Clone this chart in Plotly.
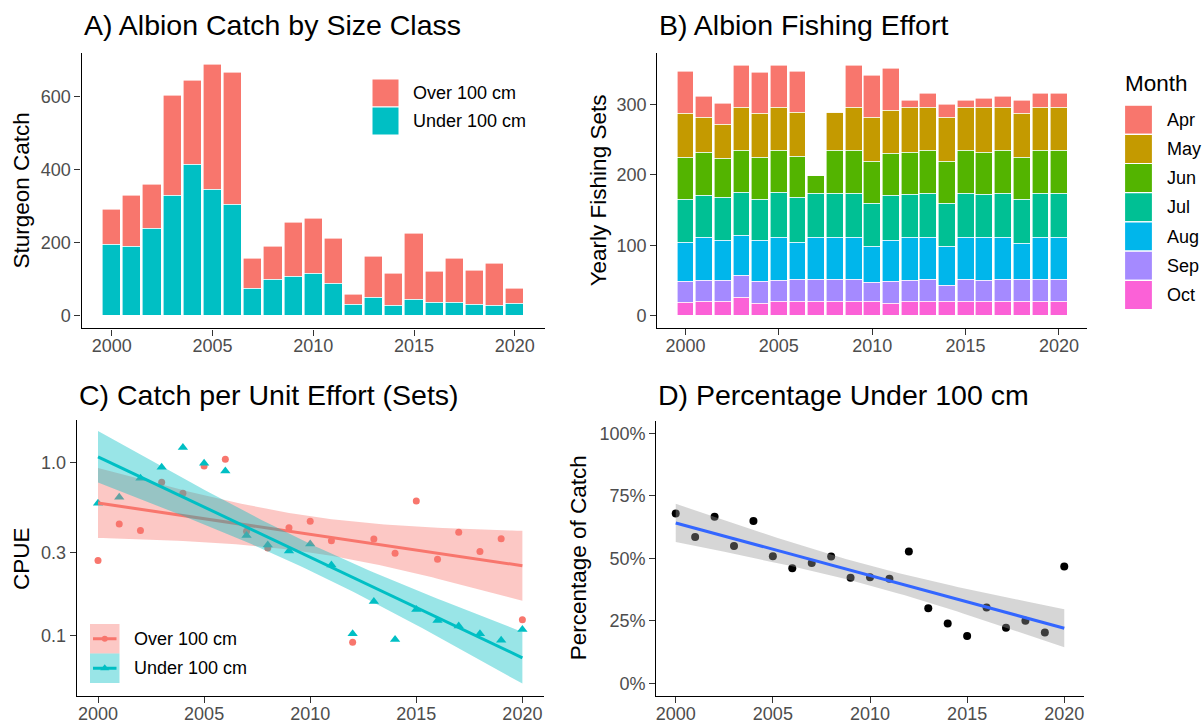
import numpy as np
import plotly.graph_objects as go

W, H = 1202, 723
FONT = "Liberation Sans, Arial, sans-serif"

# ---------------- data ----------------
years = list(range(2000, 2021))
size_classes = ["Over 100 cm", "Under 100 cm"]
catch_over = [94, 138, 122, 274, 228, 341, 361, 80, 91, 147, 151, 122, 27, 114, 88, 181, 85, 122, 94, 114, 39]
catch_under = [195, 189, 237, 328, 414, 345, 304, 75, 98, 107, 114, 88, 30, 49, 27, 43, 37, 35, 30, 28, 34]

months = ["Apr", "May", "Jun", "Jul", "Aug", "Sep", "Oct"]
sets_apr = [60, 29, 29, 60, 59, 60, 58, 0, 0, 60, 59, 59, 11, 20, 18, 10, 13, 15, 18, 20, 20]
sets_may = [63, 51, 49, 62, 63, 62, 63, 0, 54, 62, 63, 62, 63, 62, 63, 62, 63, 62, 63, 61, 62]
sets_jun = [60, 60, 56, 60, 59, 59, 59, 26, 61, 61, 60, 60, 60, 61, 60, 61, 60, 61, 60, 61, 61]
sets_jul = [60, 61, 61, 61, 59, 64, 63, 62, 62, 62, 61, 63, 62, 62, 61, 62, 62, 62, 62, 62, 62]
sets_aug = [56, 61, 57, 57, 58, 61, 53, 60, 60, 60, 52, 59, 60, 60, 56, 60, 61, 60, 51, 60, 60]
sets_sep = [30, 29, 30, 30, 31, 31, 31, 31, 31, 31, 26, 31, 31, 31, 22, 31, 29, 31, 31, 31, 31]
sets_oct = [18, 20, 19, 26, 17, 19, 20, 20, 20, 20, 20, 17, 19, 20, 20, 20, 20, 20, 20, 20, 20]

cpue_over = [0.271, 0.44, 0.403, 0.766, 0.662, 0.953, 1.04, 0.40, 0.32, 0.418, 0.456, 0.352, 0.091,
             0.36, 0.298, 0.598, 0.275, 0.394, 0.305, 0.362, 0.123]
cpue_under = [0.58, 0.628, 0.808, 0.936, 1.216, 0.987, 0.891, 0.378, 0.333, 0.307, 0.337, 0.255, 0.102,
              0.157, 0.0944, 0.141, 0.1216, 0.113, 0.102, 0.0936, 0.108]

pct_under = [0.679, 0.585, 0.666, 0.549, 0.649, 0.508, 0.460, 0.481, 0.507, 0.422, 0.424, 0.418, 0.527,
             0.301, 0.240, 0.190, 0.304, 0.223, 0.251, 0.204, 0.467]

x_ticks = [2000, 2005, 2010, 2015, 2020]
catch_ticks = [0, 200, 400, 600]
sets_ticks = [0, 100, 200, 300]
cpue_ticks = [0.1, 0.3, 1.0]
cpue_ticklabels = ["0.1", "0.3", "1.0"]
pct_ticks = [0, 0.25, 0.5, 0.75, 1.0]
pct_ticklabels = ["0%", "25%", "50%", "75%", "100%"]

titles = ["A) Albion Catch by Size Class", "B) Albion Fishing Effort",
          "C) Catch per Unit Effort (Sets)", "D) Percentage Under 100 cm"]
ytitles = ["Sturgeon Catch", "Yearly Fishing Sets", "CPUE", "Percentage of Catch"]

C_OVER, C_UNDER = "#F8766D", "#00BFC4"
month_colors = ["#F8766D", "#C49A00", "#53B400", "#00C094", "#00B6EB", "#A58AFF", "#FB61D7"]
T975 = 2.093  # t quantile, df = 19


def fx(px):
    return px / W


def fy(py):
    return 1 - py / H


def lm_band(x, y, xs):
    x = np.asarray(x, float)
    y = np.asarray(y, float)
    n = len(x)
    xm = x.mean()
    sxx = ((x - xm) ** 2).sum()
    b = ((x - xm) * (y - y.mean())).sum() / sxx
    a = y.mean() - b * xm
    s = np.sqrt(((y - (a + b * x)) ** 2).sum() / (n - 2))
    fit = a + b * xs
    se = s * np.sqrt(1 / n + (xs - xm) ** 2 / sxx)
    return fit, fit - T975 * se, fit + T975 * se


fig = go.Figure()

# ---------------- A ----------------
fig.add_trace(go.Bar(x=years, y=catch_under, marker=dict(color=C_UNDER, line=dict(color="white", width=0.6)),
                     width=0.9, xaxis="x", yaxis="y", showlegend=False))
fig.add_trace(go.Bar(x=years, y=catch_over, marker=dict(color=C_OVER, line=dict(color="white", width=0.6)),
                     width=0.9, xaxis="x", yaxis="y", showlegend=False))

# ---------------- B ----------------
month_sets = [sets_apr, sets_may, sets_jun, sets_jul, sets_aug, sets_sep, sets_oct]
for vals, col in list(zip(month_sets, month_colors))[::-1]:
    fig.add_trace(go.Bar(x=years, y=vals, marker=dict(color=col, line=dict(color="white", width=0.6)),
                         width=0.9, xaxis="x2", yaxis="y2", showlegend=False))

# ---------------- C ----------------
xs = np.linspace(2000, 2020, 81)
fig.add_trace(go.Scatter(x=years, y=cpue_over, mode="markers", marker=dict(color=C_OVER, size=7, symbol="circle"),
                         xaxis="x3", yaxis="y3", showlegend=False))
fig.add_trace(go.Scatter(x=years, y=cpue_under, mode="markers",
                         marker=dict(color=C_UNDER, size=9, symbol="triangle-up"),
                         xaxis="x3", yaxis="y3", showlegend=False))
for vals, col, fillc in [(cpue_over, C_OVER, "rgba(248,118,109,0.4)"),
                         (cpue_under, C_UNDER, "rgba(0,191,196,0.4)")]:
    fit, lo, hi = lm_band(years, np.log10(vals), xs)
    fig.add_trace(go.Scatter(x=list(xs) + list(xs[::-1]), y=list(10 ** hi) + list(10 ** lo[::-1]),
                             fill="toself", fillcolor=fillc, line=dict(width=0), mode="lines",
                             xaxis="x3", yaxis="y3", showlegend=False, hoverinfo="skip"))
    fig.add_trace(go.Scatter(x=xs, y=10 ** fit, mode="lines", line=dict(color=col, width=3),
                             xaxis="x3", yaxis="y3", showlegend=False))

# ---------------- D ----------------
fig.add_trace(go.Scatter(x=years, y=pct_under, mode="markers", marker=dict(color="black", size=8),
                         xaxis="x4", yaxis="y4", showlegend=False))
fit, lo, hi = lm_band(years, pct_under, xs)
fig.add_trace(go.Scatter(x=list(xs) + list(xs[::-1]), y=list(hi) + list(lo[::-1]), fill="toself",
                         fillcolor="rgba(153,153,153,0.4)", line=dict(width=0), mode="lines",
                         xaxis="x4", yaxis="y4", showlegend=False, hoverinfo="skip"))
fig.add_trace(go.Scatter(x=xs, y=fit, mode="lines", line=dict(color="#3366FF", width=3),
                         xaxis="x4", yaxis="y4", showlegend=False))

# ---------------- axes ----------------
common = dict(showline=True, linecolor="black", linewidth=1.4, ticks="outside", ticklen=6,
              tickcolor="#333333", tickwidth=1.2, showgrid=False, zeroline=False,
              tickfont=dict(family=FONT, size=18, color="#4D4D4D"), fixedrange=True)
xcommon = dict(common, ticklabelstandoff=-5)

panels = {
    "A": dict(xd=(81.5, 545), yd=(52.7, 328.3)),
    "B": dict(xd=(657.4, 1087), yd=(52.7, 328.0)),
    "C": dict(xd=(76.8, 543.6), yd=(420, 696)),
    "D": dict(xd=(656.3, 1083.7), yd=(420.7, 696)),
}


def dom_x(p):
    return [fx(panels[p]["xd"][0]), fx(panels[p]["xd"][1])]


def dom_y(p):
    return [fy(panels[p]["yd"][1]), fy(panels[p]["yd"][0])]


layout = dict(
    xaxis=dict(domain=dom_x("A"), range=[1998.5, 2021.5], tickvals=x_ticks, anchor="y", **xcommon),
    yaxis=dict(domain=dom_y("A"), range=[-34, 719], tickvals=catch_ticks, anchor="x", **common),
    xaxis2=dict(domain=dom_x("B"), range=[1998.5, 2021.5], tickvals=x_ticks, anchor="y2", **xcommon),
    yaxis2=dict(domain=dom_y("B"), range=[-17.8, 373.8], tickvals=sets_ticks, anchor="x2", **common),
    xaxis3=dict(domain=dom_x("C"), range=[1999, 2021], tickvals=x_ticks, anchor="y3", **xcommon),
    yaxis3=dict(domain=dom_y("C"), type="log", range=[-1.351, 0.2445], tickvals=cpue_ticks,
                ticktext=cpue_ticklabels, anchor="x3", **common),
    xaxis4=dict(domain=dom_x("D"), range=[1999, 2021], tickvals=x_ticks, anchor="y4", **xcommon),
    yaxis4=dict(domain=dom_y("D"), range=[-0.05, 1.05], tickvals=pct_ticks, ticktext=pct_ticklabels,
                anchor="x4", **common),
    xaxis5=dict(domain=[0, 1], range=[0, W], visible=False, anchor="y5", fixedrange=True),
    yaxis5=dict(domain=[0, 1], range=[H, 0], visible=False, anchor="x5", fixedrange=True),
)

annotations = []
shapes = []
# titles
for t, (p, ty) in zip(titles, [("A", 25), ("B", 25), ("C", 395), ("D", 395)]):
    annotations.append(dict(text=t, x=fx(panels[p]["xd"][0]), y=fy(ty), xref="paper", yref="paper",
                            xanchor="left", yanchor="middle", showarrow=False,
                            font=dict(family=FONT, size=28.5, color="black")))
# y titles
for t, (p, xc) in zip(ytitles, [("A", 21), ("B", 598), ("C", 21), ("D", 578)]):
    yc = (panels[p]["yd"][0] + panels[p]["yd"][1]) / 2
    annotations.append(dict(text=t, x=fx(xc), y=fy(yc), xref="paper", yref="paper", textangle=-90,
                            xanchor="center", yanchor="middle", showarrow=False,
                            font=dict(family=FONT, size=22.5, color="black")))

# legend A
for i, (lab, col) in enumerate(zip(size_classes, [C_OVER, C_UNDER])):
    y0 = 79 + i * 28
    shapes.append(dict(type="rect", xref="x5", yref="y5", x0=372, x1=399, y0=y0, y1=y0 + 28,
                       fillcolor=col, line=dict(color="white", width=1)))
    annotations.append(dict(text=lab, x=411, y=y0 + 14, xref="x5", yref="y5", xanchor="left",
                            yanchor="middle", showarrow=False, font=dict(family=FONT, size=18, color="black")))

# legend B
annotations.append(dict(text="Month", x=1123, y=83, xref="x5", yref="y5", xanchor="left", yanchor="middle",
                        showarrow=False, font=dict(family=FONT, size=22.5, color="black")))
for i, (lab, col) in enumerate(zip(months, month_colors)):
    yc = 119.7 + i * 29.2
    shapes.append(dict(type="rect", xref="x5", yref="y5", x0=1124.5, x1=1152.5, y0=yc - 14.6, y1=yc + 14.6,
                       fillcolor=col, line=dict(color="white", width=1.2)))
    annotations.append(dict(text=lab, x=1165, y=yc, xref="x5", yref="y5", xanchor="left", yanchor="middle",
                            showarrow=False, font=dict(family=FONT, size=18, color="black")))

# legend C
for i, (lab, col, fillc, sym, sz) in enumerate(zip(size_classes, [C_OVER, C_UNDER],
                                                   ["rgba(248,118,109,0.4)", "rgba(0,191,196,0.4)"],
                                                   ["circle", "triangle-up"], [6, 8])):
    y0 = 624 + i * 29.5
    yc = y0 + 14.75
    shapes.append(dict(type="rect", xref="x5", yref="y5", x0=90, x1=119.5, y0=y0, y1=y0 + 29.5,
                       fillcolor=fillc, line=dict(width=0), layer="above"))
    fig.add_trace(go.Scatter(x=[93, 116.5], y=[yc, yc], mode="lines", line=dict(color=col, width=3),
                             xaxis="x5", yaxis="y5", showlegend=False, hoverinfo="skip"))
    fig.add_trace(go.Scatter(x=[104.75], y=[yc], mode="markers", marker=dict(color=col, size=sz, symbol=sym),
                             xaxis="x5", yaxis="y5", showlegend=False, hoverinfo="skip"))
    annotations.append(dict(text=lab, x=131.5, y=yc, xref="x5", yref="y5", xanchor="left", yanchor="middle",
                            showarrow=False, font=dict(family=FONT, size=18, color="black")))

fig.update_layout(
    width=W, height=H, margin=dict(l=0, r=0, t=0, b=0, autoexpand=False),
    paper_bgcolor="white", plot_bgcolor="rgba(0,0,0,0)", barmode="stack", bargap=0,
    annotations=annotations, shapes=shapes, font=dict(family=FONT), showlegend=False,
    **layout,
)

fig.write_html("out.html", config={"displayModeBar": False})
